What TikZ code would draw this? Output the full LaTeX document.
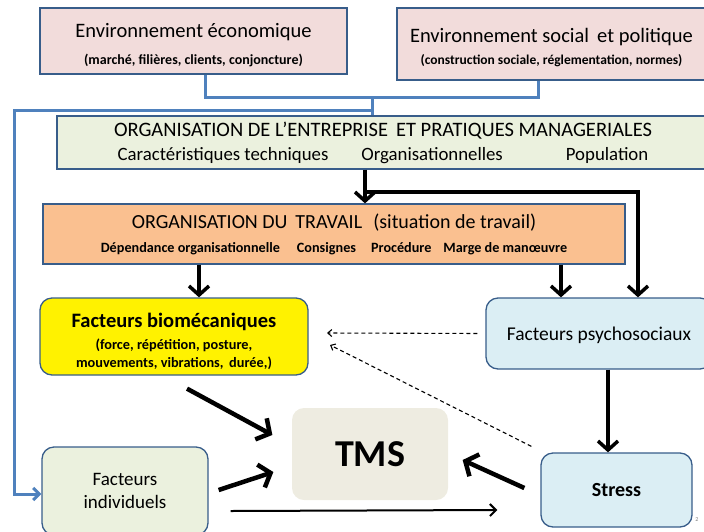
\documentclass[tikz,border=0pt]{standalone}
\usepackage{fontspec}
\setmainfont{Carlito}
\usepackage{tikz}
\usetikzlibrary{calc, positioning, arrows.meta}
\definecolor{cadre}{HTML}{385D8A}
\definecolor{bleulien}{HTML}{4F81BD}
\definecolor{rose}{HTML}{F2DCDB}
\definecolor{vertpale}{HTML}{EBF1DE}
\definecolor{orange}{HTML}{FAC090}
\definecolor{bleupale}{HTML}{DBEEF4}
\definecolor{beige}{HTML}{EEECE1}
\newcommand{\fs}[2]{\fontsize{#1}{#2}\selectfont}
\tikzset{boite/.style={draw=cadre, line width=1.3pt, rectangle, align=center, inner sep=0pt}}
\tikzset{boite ronde/.style={boite, rounded corners=12pt}}
\tikzset{fleche/.style={line width=3.5pt, -{Straight Barb[length=9pt, width=20pt]}}}
\tikzset{grosse fleche/.style={line width=4.5pt, -{Straight Barb[length=10pt, width=24pt]}}}
\tikzset{lien bleu/.style={draw=bleulien, line width=3pt}}
\tikzset{pointille/.style={line width=1.1pt, dash pattern=on 4pt off 3pt, -{Straight Barb[length=4pt, width=7pt]}}}

\begin{document}
\begin{tikzpicture}[x=1pt, y=-1pt]
\useasboundingbox (0,0) rectangle (704,531);
\node[boite, fill=rose, minimum width=307pt, minimum height=66pt, font=\fs{20.5}{27}] (eco) at (193.5,41)
  {\rule{0pt}{22pt}Environnement économique\\ \fs{14}{17}\bfseries(marché, filières, clients, conjoncture)};
\node[boite, fill=rose, minimum width=309pt, minimum height=72pt, font=\fs{20.5}{22}] (social) at (551.5,44)
  {\rule{0pt}{21pt}Environnement social\, et politique\\ \fs{13.5}{16}\bfseries(construction sociale, réglementation, normes)};
\node[boite, fill=vertpale, minimum width=652pt, minimum height=53pt, font=\fs{20.5}{24}] (orgent) at (383,142.5)
  {ORGANISATION DE L’ENTREPRISE\, ET PRATIQUES MANAGERIALES\\
   \fs{18.8}{24}Caractéristiques techniques\hspace{33pt}Organisationnelles\hspace{63pt}Population};
\node[boite, fill=orange, minimum width=582pt, minimum height=60pt, font=\fs{20}{24}] (travail) at (334,234)
  {ORGANISATION DU\, TRAVAIL\,\, (situation de travail)\\
   \fs{14.2}{17}\bfseries Dépendance organisationnelle\hspace{17pt}Consignes\hspace{15pt}Procédure\hspace{12pt}Marge de manœuvre};
\node[boite ronde, fill=yellow, minimum width=268pt, minimum height=77pt, font=\fs{20.5}{18}\bfseries] (bio) at (174,336.5)
  {\rule{0pt}{24pt}Facteurs biomécaniques\\[4pt] \fs{14.3}{17}(force, répétition, posture,\\ \fs{14.3}{17}mouvements, vibrations,\, durée,)};
\node[boite ronde, fill=bleupale, minimum width=226pt, minimum height=71pt, font=\fs{19.5}{23}] (psycho) at (599,333.5)
  {\rule{0pt}{18pt}Facteurs psychosociaux};
\node[boite ronde, fill=beige, draw=none, minimum width=156pt, minimum height=92pt, font=\fs{38}{44}\bfseries] (tms) at (370,454)
  {TMS};
\node[boite ronde, fill=vertpale, minimum width=166pt, minimum height=88pt, font=\fs{19}{23}] (indiv) at (125,491)
  {Facteurs\\ individuels};
\node[boite ronde, fill=bleupale, minimum width=151pt, minimum height=74pt, font=\fs{20}{24}\bfseries] (stress) at (616.5,490)
  {Stress};
\node[text=gray, inner sep=0pt, font=\fs{6}{7}] (numero) at (697,520) {2};

% liens de l'environnement
\coordinate (jonction) at (372,97);
\coordinate (depart) at (372,110);
\coordinate (coin) at (14,110);
\draw[lien bleu] ([xshift=11.5pt]eco.south) |- (jonction);
\draw[lien bleu] ([xshift=-13.5pt]social.south) |- (jonction);
\draw[lien bleu] (jonction) -- (orgent.north -| jonction);
\draw[lien bleu, -{Straight Barb[length=6pt, width=12pt]}] (depart) -- (coin) |- ([yshift=-3pt]indiv.west);

% organisation
\coordinate (axe) at (365,192);
\coordinate (coude) at (638,192);
\draw[fleche] (orgent.south -| axe) -- (travail.north -| axe);
\draw[fleche] (axe) -- (coude) -- (psycho.north -| coude);
\coordinate (pb) at ($(bio.north)+(25,0)$);
\coordinate (pp) at ($(psycho.north)+(-38,0)$);
\draw[fleche] (travail.south -| pb) -- (pb);
\draw[fleche] (travail.south -| pp) -- (pp);
\coordinate (ps) at ($(psycho.south)+(9,0)$);
\draw[fleche] (ps) -- (stress.north -| ps);

% effets indirects
\coordinate (cible) at (327,333);
\coordinate (cible2) at (330,345);
\draw[pointille, shorten <=8pt] (psycho.west) -- (cible);
\draw[pointille] ($(stress.north west)+(-9,-6)$) -- (cible2);

% vers les TMS
\draw[grosse fleche] ($(bio.south)+(13,13)$) -- ($(tms.west)+(-19,-19)$);
\draw[grosse fleche] ($(indiv.east)+(10,-1)$) -- ($(tms.west)+(-18,18)$);
\draw[grosse fleche] ($(stress.west)+(-16,-2)$) -- ($(tms.east)+(14,6)$);
\draw[line width=2pt, -{Straight Barb[length=6pt, width=12pt]}] ($(indiv.east)+(22,20)$) -- ($(stress.west)+(-43,20)$);
\end{tikzpicture}
\end{document}
